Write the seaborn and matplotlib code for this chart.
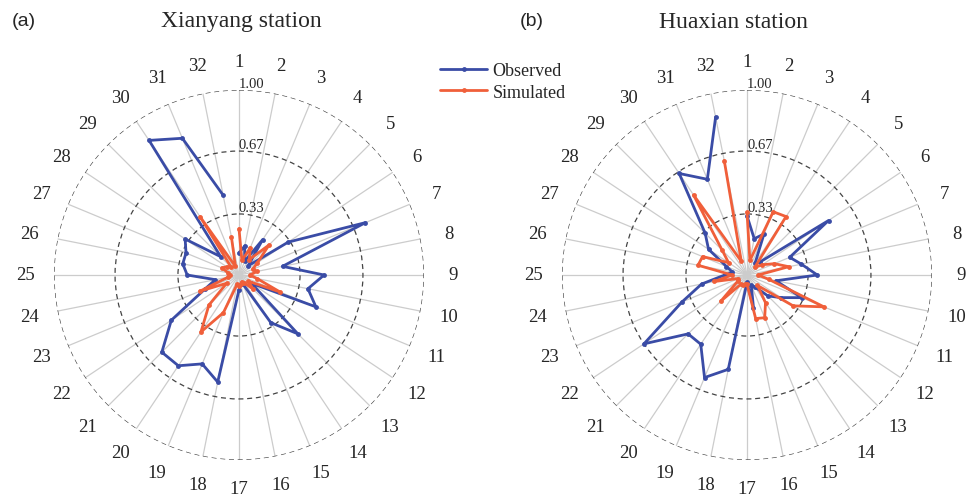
import numpy as np
import matplotlib
matplotlib.use("Agg")
import matplotlib.pyplot as plt
import seaborn as sns

# spoke numbers 1..32, clockwise from top
spokes = list(range(1, 33))

xianyang_obs = [0.12, 0.16, 0.08, 0.23, 0.07, 0.32, 0.74, 0.24,
                0.46, 0.38, 0.45, 0.08, 0.45, 0.31, 0.05, 0.05,
                0.08, 0.59, 0.52, 0.59, 0.59, 0.44, 0.20, 0.13,
                0.28, 0.31, 0.31, 0.35, 0.14, 0.875, 0.80, 0.44]
xianyang_sim = [0.25, 0.08, 0.16, 0.10, 0.23, 0.12, 0.08, 0.10,
                0.06, 0.10, 0.24, 0.06, 0.11, 0.05, 0.04, 0.05,
                0.06, 0.05, 0.22, 0.37, 0.23, 0.08, 0.23, 0.06,
                0.05, 0.06, 0.10, 0.08, 0.06, 0.38, 0.05, 0.21]

huaxian_obs = [0.32, 0.20, 0.24, 0.08, 0.10, 0.53, 0.25, 0.30,
               0.38, 0.16, 0.32, 0.22, 0.16, 0.08, 0.06, 0.18,
               0.04, 0.52, 0.60, 0.45, 0.45, 0.67, 0.38, 0.25,
               0.12, 0.08, 0.12, 0.25, 0.32, 0.66, 0.56, 0.87]
huaxian_sim = [0.34, 0.08, 0.37, 0.38, 0.06, 0.10, 0.16, 0.23,
               0.06, 0.12, 0.45, 0.30, 0.08, 0.18, 0.25, 0.24,
               0.05, 0.05, 0.06, 0.06, 0.20, 0.06, 0.05, 0.18,
               0.08, 0.27, 0.26, 0.12, 0.19, 0.52, 0.08, 0.63]

rings = [0.33, 0.67, 1.00]
ring_labels = ["0.33", "0.67", "1.00"]

obs_color = "#3a4ca6"
sim_color = "#f05f3a"

sns.set_style("white")
plt.rcParams['font.family'] = ['Liberation Serif', 'DejaVu Serif']

theta = np.deg2rad((np.array(spokes) - 1) * 360 / 32)
theta_c = np.append(theta, theta[0])


def radar(ax, obs, sim):
    ax.set_theta_zero_location('N')
    ax.set_theta_direction(-1)
    ax.set_ylim(0, 1.0)
    ax.set_xticks(theta)
    ax.set_xticklabels([])
    ax.set_yticks(rings)
    ax.set_yticklabels([])
    ax.xaxis.grid(True, color="#cccccc", lw=0.9, ls='-')
    ax.yaxis.grid(True, color="#444444", lw=0.9, ls=(0, (4, 3)))
    ax.spines['polar'].set_visible(False)

    sns.lineplot(x=theta_c, y=np.append(obs, obs[0]), sort=False, ax=ax,
                 color=obs_color, lw=2, marker='o', markersize=3.5,
                 markeredgewidth=0, label="Observed", zorder=4)
    sns.lineplot(x=theta_c, y=np.append(sim, sim[0]), sort=False, ax=ax,
                 color=sim_color, lw=2, marker='o', markersize=3.5,
                 markeredgewidth=0, label="Simulated", zorder=5)
    ax.legend_.remove()

    for t, n in zip(theta, spokes):
        ax.text(t, 1.155, str(n), ha='center', va='center',
                fontsize=13.5, clip_on=False)
    for r, lab in zip(rings, ring_labels):
        ax.annotate(lab, xy=(0, r), xytext=(0, 5), textcoords='offset points',
                    ha='left', va='center', fontsize=10.5, zorder=6)


fig = plt.figure(figsize=(9.7, 5.02), dpi=100)
ax1 = fig.add_axes([54 / 970, 41 / 502, 370 / 970, 370 / 502], projection='polar')
ax2 = fig.add_axes([562 / 970, 41 / 502, 370 / 970, 370 / 502], projection='polar')

radar(ax1, xianyang_obs, xianyang_sim)
radar(ax2, huaxian_obs, huaxian_sim)

fig.text(241 / 970, 1 - 22 / 502, "Xianyang station", ha='center', va='center', fontsize=17)
fig.text(733 / 970, 1 - 22 / 502, "Huaxian station", ha='center', va='center', fontsize=17)
fig.text(12 / 970, 1 - 21 / 502, "(a)", ha='left', va='center', fontsize=14,
         family=['Liberation Sans', 'DejaVu Sans'])
fig.text(520 / 970, 1 - 21 / 502, "(b)", ha='left', va='center', fontsize=14,
         family=['Liberation Sans', 'DejaVu Sans'])

handles, labels = ax1.get_legend_handles_labels()
fig.legend(handles, labels, loc='upper left', bbox_to_anchor=(433 / 970, 1 - 56 / 502),
           frameon=False, fontsize=13, handlelength=2.6, handletextpad=0.3,
           labelspacing=0.25, borderaxespad=0)

fig.savefig("out.png", dpi=100)
